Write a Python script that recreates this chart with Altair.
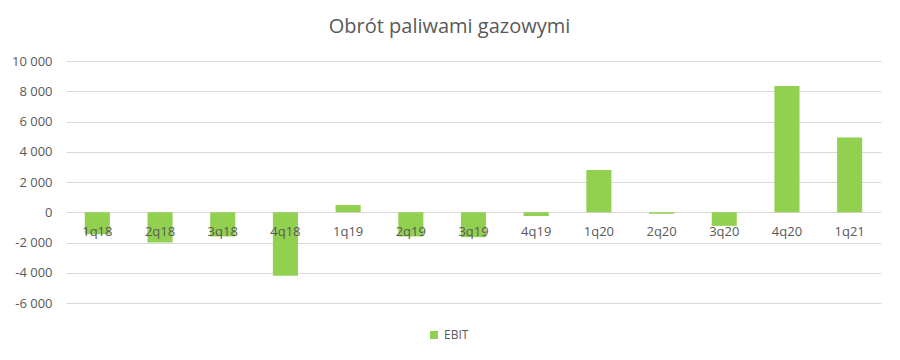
import altair as alt
import pandas as pd

categories = ["1q18", "2q18", "3q18", "4q18", "1q19", "2q19", "3q19", "4q19",
              "1q20", "2q20", "3q20", "4q20", "1q21"]
ebit = [-1450, -2000, -1600, -4200, 480, -1600, -1650, -250,
        2800, -100, -900, 8350, 4950]
series_name = "EBIT"
y_ticks = [-6000, -4000, -2000, 0, 2000, 4000, 6000, 8000, 10000]

df = pd.DataFrame({"q": categories, "v": ebit, "s": [series_name] * len(categories)})
df["zero"] = 0

FONT = "Open Sans"
GREY = "#595959"

x = alt.X("q:N", sort=categories, axis=None,
          scale=alt.Scale(paddingInner=0.6, paddingOuter=0.3))
yscale = alt.Scale(domain=[-6000, 10000], nice=False)
yaxis = alt.Axis(values=y_ticks, title=None, domain=False, ticks=False,
                 grid=True, gridColor="#D9D9D9", gridWidth=1,
                 labelOverlap=False,
                 labelFont=FONT, labelFontSize=13, labelColor=GREY,
                 labelPadding=14,
                 labelExpr="(datum.value < 0 ? '-' : '') + replace(format(abs(datum.value), ','), ',', ' ')")

bars = alt.Chart(df).mark_bar(color="#92D050").encode(
    x=x,
    y=alt.Y("v:Q", scale=yscale, axis=yaxis),
    color=alt.Color("s:N", scale=alt.Scale(domain=[series_name], range=["#92D050"]),
                    legend=alt.Legend(title=None, orient="none", legendX=362, legendY=268,
                                      symbolType="square", symbolSize=64,
                                      labelFont=FONT, labelFontSize=12, labelColor=GREY)),
)

labels = alt.Chart(df).mark_text(font=FONT, fontSize=13, color=GREY, baseline="middle", dy=20).encode(
    x=x,
    y=alt.Y("zero:Q", scale=yscale, axis=yaxis),
    text="q:N",
)

chart = alt.layer(bars, labels).properties(
    width=815, height=242,
    background="white",
    title=alt.TitleParams("Obrót paliwami gazowymi", font=FONT, fontSize=20,
                          fontWeight="normal", color=GREY, anchor="middle", dx=-24, offset=18),
    autosize=alt.AutoSizeParams(type="none"),
    padding={"left": 58, "top": 53, "right": 11, "bottom": 49},
).configure_view(stroke=None)

chart.save("out.html", embed_options={"renderer": "svg", "actions": False})
